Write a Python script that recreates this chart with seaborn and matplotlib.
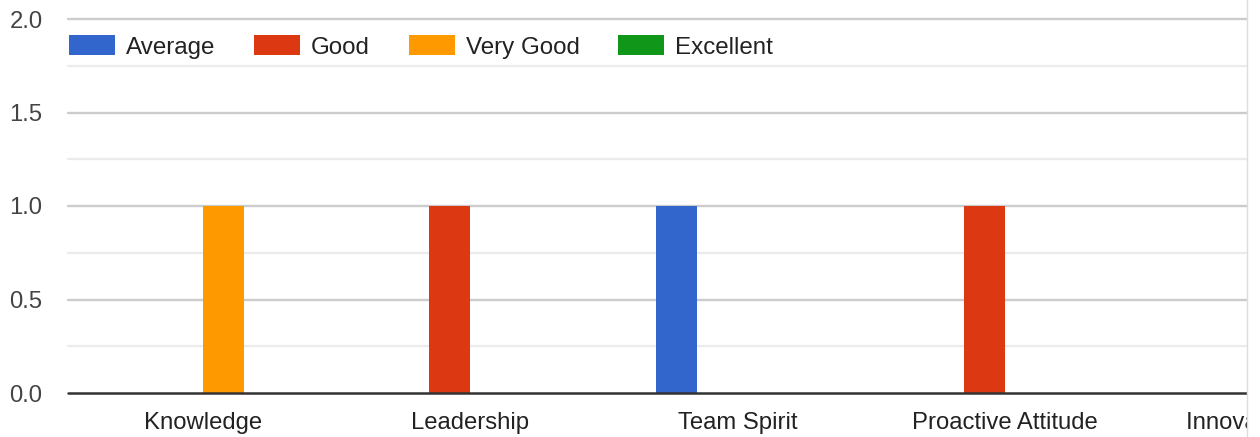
import matplotlib
matplotlib.use("Agg")
import matplotlib.pyplot as plt
from matplotlib.patches import Rectangle
from matplotlib.lines import Line2D
from matplotlib.ticker import MultipleLocator
import seaborn as sns
import pandas as pd

# Ratings per skill area
categories = ["Knowledge", "Leadership", "Team Spirit", "Proactive Attitude", "Innovation Skills"]
series_names = ["Average", "Good", "Very Good", "Excellent"]
average = [0, 0, 1, 0, 0]
good = [0, 1, 0, 1, 0]
very_good = [1, 0, 0, 0, 0]
excellent = [0, 0, 0, 0, 0]
y_ticks = [0.0, 0.5, 1.0, 1.5, 2.0]

colors = ["#3366cc", "#dc3912", "#ff9900", "#109618"]

rows = []
for name, vals in zip(series_names, [average, good, very_good, excellent]):
    for cat, v in zip(categories, vals):
        rows.append({"Skill": cat, "Rating": name, "Count": v})
df = pd.DataFrame(rows)

sns.set_theme(style="white")
plt.rcParams["font.family"] = ["Liberation Sans", "DejaVu Sans"]

W, H = 1260, 437
fig = plt.figure(figsize=(W / 100, H / 100), dpi=100)
left_px, right_px, top_px, base_px = 69, 1406.5, 19, 393
ax = fig.add_axes([left_px / W, (H - base_px) / H,
                   (right_px - left_px) / W, (base_px - top_px) / H])

sns.barplot(data=df, x="Skill", y="Count", hue="Rating", order=categories,
            hue_order=series_names, palette=colors, saturation=1,
            width=0.613, linewidth=0, errorbar=None, ax=ax, zorder=3)

ax.set_xlim(-0.5, len(categories) - 0.5)
ax.set_ylim(0, 2.0)
ax.set_yticks(y_ticks)
ax.set_yticklabels([f"{t:.1f}" for t in y_ticks])
ax.yaxis.set_minor_locator(MultipleLocator(0.25))

# Gridlines: darker at labelled values, lighter in between
for v in [0.25, 0.75, 1.25, 1.75]:
    ax.axhline(v, xmin=-0.001, color="#ebebeb", lw=1.6, zorder=1, clip_on=False)
for v in y_ticks[1:]:
    ax.axhline(v, xmin=-0.001, color="#cccccc", lw=1.7, zorder=1, clip_on=False)
ax.axhline(0, xmin=-0.001, color="#333333", lw=1.8, zorder=4, clip_on=False)

for s in ax.spines.values():
    s.set_visible(False)
ax.set_xlabel("")
ax.set_ylabel("")
ax.tick_params(axis="y", length=0, pad=19, labelsize=17.2, labelcolor="#444444")
ax.tick_params(axis="x", length=0, pad=14, labelsize=17.2, labelcolor="#222222")
ax.tick_params(which="minor", length=0)

handles = [Rectangle((0, 0), 1, 1, facecolor=c, edgecolor="none") for c in colors]
ax.legend(handles, series_names, loc="upper left", ncol=4, frameon=False,
          fontsize=17.4, handlelength=1.9, handleheight=0.88,
          handletextpad=0.46, columnspacing=1.6, borderpad=0,
          borderaxespad=0, bbox_to_anchor=(0.0, 0.956),
          labelcolor="#222222")

# Chart container edge on the right
fig.patches.append(Rectangle((1246.5 / W, 0), 1, 1, transform=fig.transFigure,
                             facecolor="white", edgecolor="none", zorder=10))
fig.lines.append(Line2D([1246.5 / W, 1246.5 / W], [0, 1], transform=fig.transFigure,
                        color="#dddddd", lw=1, zorder=11))

fig.savefig("out.png", dpi=100)
